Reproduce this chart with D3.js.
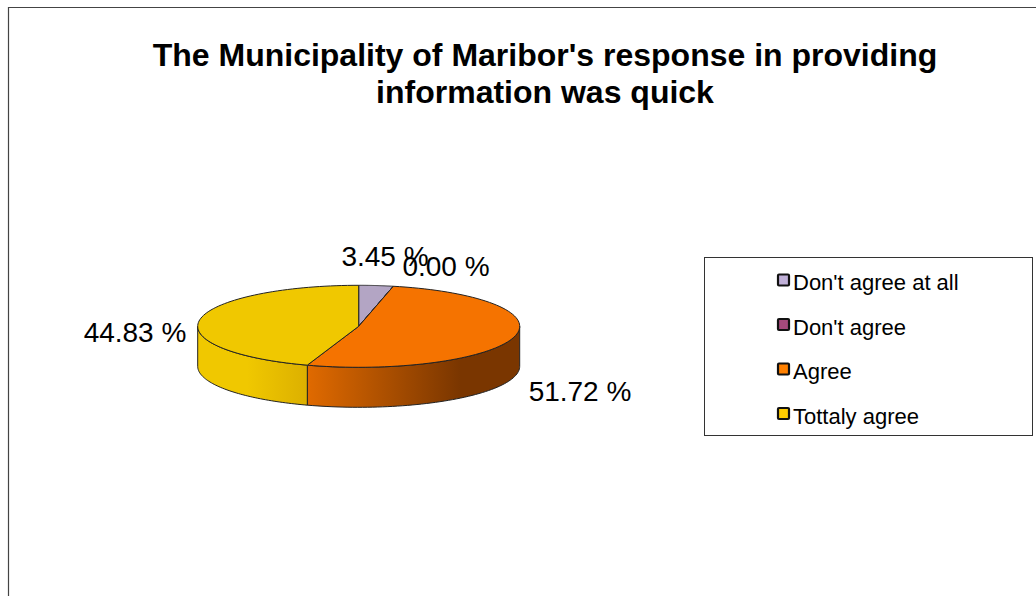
<!DOCTYPE html>
<html><head><meta charset="utf-8">
<script src="https://cdn.jsdelivr.net/npm/d3@7/dist/d3.min.js"></script>
<style>html,body{margin:0;padding:0;background:#fff}svg{display:block}text{font-family:"Liberation Sans",Arial,sans-serif;fill:#000}</style>
</head><body><svg id="c" width="1036" height="596"></svg>
<script>
const categories = ["Don't agree at all","Don't agree","Agree","Tottaly agree"];
const values = [3.45,0.00,51.72,44.83];
const valueLabels = ["3.45 %","0.00 %","51.72 %","44.83 %"];
const topColors = ["#b3a5c4","#a64a7c","#f57300","#f0c800"];
const legendColors = ["#c0b0d8","#a64a7c","#ff8000","#ffcc00"];
const titleLines = ["The Municipality of Maribor's response in providing","information was quick"];

const svg = d3.select("#c");
const cx=358.7, cy=326.3, rx=161, ry=41, depth=40;

svg.append("path").attr("d","M8.5,596V7.5H1036").attr("fill","none").attr("stroke","#444").attr("stroke-width",1.2);

svg.selectAll("text.t").data(titleLines).join("text").attr("class","t")
  .attr("x",545).attr("y",(d,i)=>66.3+i*36.5).attr("text-anchor","middle")
  .attr("font-size",32).attr("font-weight","bold").text(d=>d);

const pie = d3.pie().sort(null).value(d=>d)(values);
const sx = d3.scaleLinear().domain([-1,1]).range([cx-rx,cx+rx]);
const sy = d3.scaleLinear().domain([-1,1]).range([cy-ry,cy+ry]);
const px = a=>sx(Math.sin(a)), py = a=>sy(-Math.cos(a));

const defs = svg.append("defs");
const g1 = defs.append("linearGradient").attr("id","gOrange").attr("gradientUnits","userSpaceOnUse")
  .attr("x1",px(pie[3].startAngle)).attr("x2",cx+rx).attr("y1",0).attr("y2",0);
[[0,"#e06a00"],[0.72,"#7a3600"],[1,"#7a3600"]].forEach(s=>g1.append("stop").attr("offset",s[0]).attr("stop-color",s[1]));
const g2 = defs.append("linearGradient").attr("id","gYellow").attr("gradientUnits","userSpaceOnUse")
  .attr("x1",cx-rx).attr("x2",px(pie[3].startAngle)).attr("y1",0).attr("y2",0);
[[0,"#f0c800"],[0.45,"#f0c800"],[1,"#dcb000"]].forEach(s=>g2.append("stop").attr("offset",s[0]).attr("stop-color",s[1]));

function wall(a0,a1){
  const n=60, pts=d3.range(n+1).map(i=>a0+(a1-a0)*i/n);
  const top=pts.map(a=>[px(a),py(a)]), bot=pts.slice().reverse().map(a=>[px(a),py(a)+depth]);
  return d3.line()(top.concat(bot))+"Z";
}
const boundary=pie[3].startAngle;
svg.append("path").attr("d",wall(Math.PI/2,boundary)).attr("fill","url(#gOrange)").attr("stroke","#222").attr("stroke-width",1);
svg.append("path").attr("d",wall(boundary,Math.PI*1.5)).attr("fill","url(#gYellow)").attr("stroke","#222").attr("stroke-width",1);

function sector(d){
  const n=80, pts=d3.range(n+1).map(i=>{const a=d.startAngle+(d.endAngle-d.startAngle)*i/n;return [px(a),py(a)];});
  return d3.line()([[cx,cy]].concat(pts))+"Z";
}
svg.selectAll("path.s").data(pie).join("path").attr("class","s")
  .attr("d",sector).attr("fill",(d,i)=>topColors[i]).attr("stroke","#222").attr("stroke-width",1).attr("stroke-linejoin","round");

const labelPos=[[385,266],[446,276],[580,401],[135,342]];
svg.selectAll("text.v").data(valueLabels).join("text").attr("class","v")
  .attr("x",(d,i)=>labelPos[i][0]).attr("y",(d,i)=>labelPos[i][1]).attr("text-anchor","middle")
  .attr("font-size",28).text(d=>d);

svg.append("rect").attr("x",704.5).attr("y",257.5).attr("width",328).attr("height",178).attr("fill","#fff").attr("stroke","#333");
const ly=d3.scalePoint().domain(categories).range([280,413.5]);
const lg=svg.selectAll("g.l").data(categories).join("g").attr("class","l").attr("transform",d=>`translate(0,${ly(d)})`);
lg.append("rect").attr("x",778).attr("y",-5.5).attr("width",11).attr("height",11).attr("rx",1)
  .attr("fill",(d,i)=>legendColors[i]).attr("stroke","#111").attr("stroke-width",2.2);
lg.append("text").attr("x",793).attr("y",10).attr("font-size",22).text(d=>d);
</script></body></html>
